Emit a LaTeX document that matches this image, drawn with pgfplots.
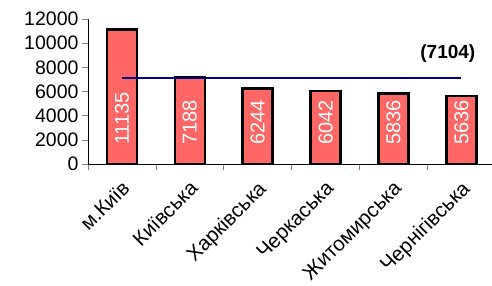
\documentclass[border=0pt]{standalone}
\usepackage{fontspec}
\setmainfont{Liberation Sans}
\usepackage{pgfplots}
\pgfplotsset{compat=1.18}
\definecolor{barred}{RGB}{255,102,102}
\definecolor{avgblue}{RGB}{0,0,128}
\begin{document}
\begin{tikzpicture}
\begin{axis}[
  at={(88pt,-164pt)}, anchor=south west,
  scale only axis, width=404pt, height=145pt,
  xmin=-0.5, xmax=5.45, ymin=0, ymax=12000,
  axis x line*=bottom, axis y line*=left,
  axis line style={black, line width=0.8pt},
  xtick={0,...,5},
  xticklabels={м.Київ,Київська,Харківська,Черкаська,Житомирська,Чернігівська},
  major x tick style={draw=none},
  minor xtick={-0.5,0.5,...,5.5},
  minor x tick style={gray, line width=0.6pt},
  ytick={0,2000,...,12000},
  y tick style={gray, line width=0.6pt},
  tick align=outside,
  major tick length=6pt, minor tick length=6pt,
  xticklabel style={xshift=-1pt, yshift=-8pt, rotate=45, anchor=north east, font=\fontsize{20.5}{22}\selectfont, inner sep=1pt},
  yticklabel style={font=\fontsize{19.5}{21}\selectfont, /pgf/number format/1000 sep={}},
  /pgf/number format/assume math mode=true,
  scaled y ticks=false,
  clip=false,
]
\addplot[ybar, bar width=30pt, fill=barred, draw=black, line width=2.5pt]
  coordinates {(0,11135) (1,7188) (2,6244) (3,6042) (4,5836) (5,5636)};
\addplot[draw=none, nodes near coords, point meta=explicit symbolic,
  every node near coord/.append style={rotate=90, anchor=west, white, inner sep=0pt, font=\fontsize{20}{22}\selectfont}]
  coordinates {(0,1570)[11135] (1,1570)[7188] (2,1570)[6244] (3,1570)[6042] (4,1570)[5836] (5,1570)[5636]};
\addplot[avgblue, line width=2pt] coordinates {(0,7104) (5,7104)};
\node[font=\bfseries\fontsize{19}{21}\selectfont, yshift=25pt] at (axis cs:4.8,7104) {(7104)};
\end{axis}
\pgfresetboundingbox
\useasboundingbox (0,0) rectangle (492pt,-286pt);
\end{tikzpicture}
\end{document}
